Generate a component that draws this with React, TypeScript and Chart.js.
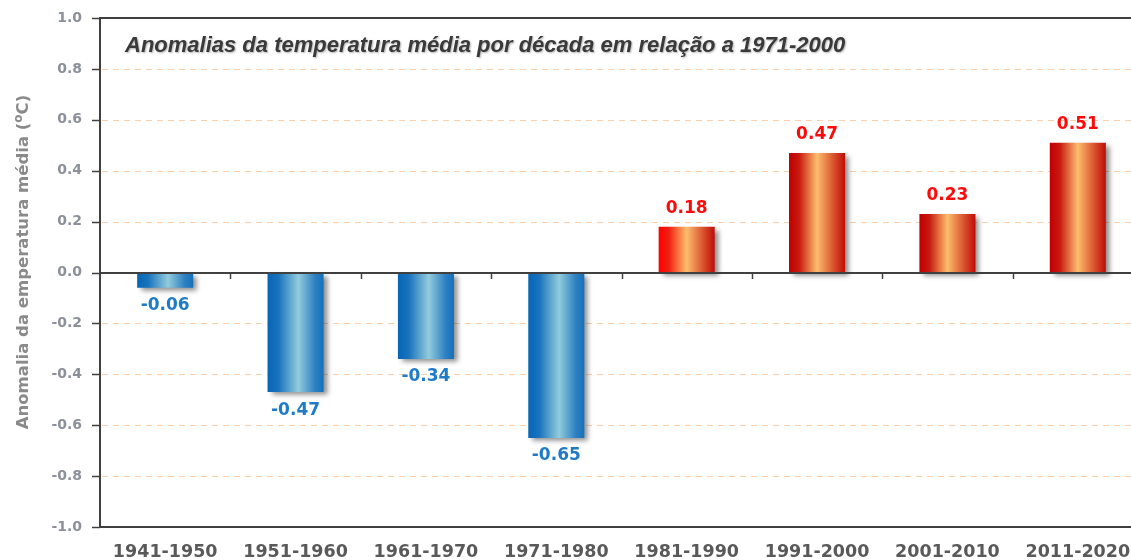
import React, { useEffect, useRef } from 'react';
import { Chart, registerables } from 'chart.js';

Chart.register(...registerables);

const categories = ['1941-1950', '1951-1960', '1961-1970', '1971-1980', '1981-1990', '1991-2000', '2001-2010', '2011-2020'];
const anomalies = [-0.06, -0.47, -0.34, -0.65, 0.18, 0.47, 0.23, 0.51];
const gridValues = [-0.8, -0.6, -0.4, -0.2, 0.2, 0.4, 0.6, 0.8];
const tickValues = [-1.0, -0.8, -0.6, -0.4, -0.2, 0.0, 0.2, 0.4, 0.6, 0.8, 1.0];
const chartTitle = 'Anomalias da temperatura média por década em relação a 1971-2000';
const yTitleMain = 'Anomalia da emperatura média (';
const yTitleSup = 'o';
const yTitleEnd = 'C)';

const AXIS = '#404040';
const SANS = '"DejaVu Sans", Verdana, sans-serif';

function barGradient(ctx: any) {
  const chart = ctx.chart;
  const i = ctx.dataIndex;
  const v = anomalies[i];
  if (!chart.chartArea || i === undefined) return v < 0 ? '#1a73bb' : '#c00000';
  const xs = chart.scales.x;
  const cx = xs.getPixelForValue(i);
  const w = (xs.width / categories.length) * 0.43;
  const g = chart.ctx.createLinearGradient(cx - w / 2, 0, cx + w / 2, 0);
  if (v < 0) {
    g.addColorStop(0, '#0665b6');
    g.addColorStop(0.2, '#1a74bd');
    g.addColorStop(0.55, '#92cbdc');
    g.addColorStop(0.85, '#2c80c2');
    g.addColorStop(1, '#1670b9');
  } else {
    g.addColorStop(0, i === 4 ? '#ff0000' : '#c00000');
    g.addColorStop(0.18, i === 4 ? '#f02010' : '#c81a10');
    g.addColorStop(0.5, '#fdbd6c');
    g.addColorStop(0.8, '#d8502c');
    g.addColorStop(1, '#c00c08');
  }
  return g;
}

const decor = {
  id: 'decor',
  beforeDatasetsDraw(chart: any) {
    const { ctx, chartArea, scales } = chart;
    const { left, right } = chartArea;
    const y = scales.y;
    ctx.save();
    ctx.strokeStyle = '#fccfa8';
    ctx.lineWidth = 1;
    ctx.setLineDash([6, 5]);
    for (const v of gridValues) {
      const py = Math.round(y.getPixelForValue(v)) + 0.5;
      ctx.beginPath();
      ctx.moveTo(left + 2, py);
      ctx.lineTo(right, py);
      ctx.stroke();
    }
    ctx.restore();
    ctx.save();
    ctx.shadowColor = 'rgba(0,0,0,0.45)';
    ctx.shadowBlur = 5;
    ctx.shadowOffsetX = 4;
    ctx.shadowOffsetY = 3;
  },
  afterDatasetsDraw(chart: any) {
    const { ctx, chartArea, scales } = chart;
    ctx.restore();
    const { left, right, top } = chartArea;
    const x = scales.x;
    const y = scales.y;
    ctx.save();
    ctx.strokeStyle = AXIS;
    ctx.lineWidth = 2;
    // top border
    ctx.beginPath();
    ctx.moveTo(left - 1, top);
    ctx.lineTo(right, top);
    ctx.stroke();
    // zero line
    const zy = Math.round(y.getPixelForValue(0));
    ctx.beginPath();
    ctx.moveTo(left - 1, zy);
    ctx.lineTo(right, zy);
    ctx.stroke();
    // x ticks at zero line
    ctx.lineWidth = 1.5;
    const step = x.width / categories.length;
    for (let k = 1; k < categories.length; k++) {
      const px = Math.round(x.getPixelForValue(k) - step / 2) + 0.5;
      ctx.beginPath();
      ctx.moveTo(px, zy);
      ctx.lineTo(px, zy + 6);
      ctx.stroke();
    }
    // y ticks
    for (const v of tickValues) {
      const py = Math.round(y.getPixelForValue(v)) + 0.5;
      ctx.beginPath();
      ctx.moveTo(left - 8, py);
      ctx.lineTo(left, py);
      ctx.stroke();
    }
    ctx.restore();

    // value labels
    const meta = chart.getDatasetMeta(0);
    ctx.save();
    ctx.font = `bold 17px ${SANS}`;
    ctx.textAlign = 'center';
    ctx.textBaseline = 'middle';
    meta.data.forEach((bar: any, i: number) => {
      const v = anomalies[i];
      const neg = v < 0;
      ctx.fillStyle = neg ? '#1f7bc8' : '#ff0a0a';
      const ly = neg ? bar.y + 18 : bar.y - 18;
      ctx.fillText(v.toFixed(2), bar.x, ly);
    });
    ctx.restore();

    // chart title
    ctx.save();
    ctx.font = `italic bold 22px "Liberation Sans", Arial, sans-serif`;
    ctx.fillStyle = '#3a3a3a';
    ctx.textAlign = 'left';
    ctx.textBaseline = 'alphabetic';
    ctx.shadowColor = 'rgba(0,0,0,0.3)';
    ctx.shadowBlur = 2;
    ctx.shadowOffsetX = 1;
    ctx.shadowOffsetY = 1;
    ctx.fillText(chartTitle, 125, 52);
    ctx.restore();

    // y axis title
    ctx.save();
    ctx.translate(28, 262);
    ctx.rotate(-Math.PI / 2);
    ctx.fillStyle = '#8a8a8a';
    ctx.textBaseline = 'alphabetic';
    ctx.textAlign = 'left';
    const mainFont = `bold 16.5px ${SANS}`;
    const supFont = `bold 12px ${SANS}`;
    ctx.font = mainFont;
    const w1 = ctx.measureText(yTitleMain).width;
    const w3 = ctx.measureText(yTitleEnd).width;
    ctx.font = supFont;
    const w2 = ctx.measureText(yTitleSup).width;
    const total = w1 + w2 + w3;
    let sx = -total / 2;
    ctx.font = mainFont;
    ctx.fillText(yTitleMain, sx, 0);
    sx += w1;
    ctx.font = supFont;
    ctx.fillText(yTitleSup, sx, -6);
    sx += w2;
    ctx.font = mainFont;
    ctx.fillText(yTitleEnd, sx, 0);
    ctx.restore();
  },
};

export default function App() {
  const ref = useRef<HTMLCanvasElement | null>(null);
  useEffect(() => {
    if (!ref.current) return;
    const chart = new Chart(ref.current, {
      type: 'bar',
      data: {
        labels: categories,
        datasets: [
          {
            data: anomalies,
            backgroundColor: barGradient as any,
            borderWidth: 0,
            barPercentage: 0.43,
            categoryPercentage: 1,
          },
        ],
      },
      options: {
        animation: false,
        responsive: false,
        maintainAspectRatio: false,
        layout: { padding: { left: 0, right: 2, top: 18, bottom: 0 } },
        plugins: {
          legend: { display: false },
          tooltip: { enabled: false },
          title: { display: false },
        },
        scales: {
          x: {
            grid: { display: false, drawTicks: false },
            border: { display: true, color: AXIS, width: 2 },
            ticks: {
              autoSkip: false,
              maxRotation: 0,
              padding: 15,
              color: '#595959',
              font: { family: SANS, size: 17.5, weight: 'bold' },
            },
            afterFit: (s: any) => {
              s.height = 33;
              s.paddingLeft = 0;
              s.paddingRight = 0;
            },
          },
          y: {
            min: -1,
            max: 1,
            grid: { display: false, drawTicks: false },
            border: { display: true, color: AXIS, width: 2 },
            ticks: {
              stepSize: 0.2,
              padding: 18,
              color: '#8b909b',
              font: { family: SANS, size: 14, weight: 'bold' },
              callback: (v: any) => Number(v).toFixed(1),
            },
            afterFit: (s: any) => {
              s.width = 100;
              s.paddingTop = 0;
              s.paddingBottom = 0;
            },
          },
        },
      },
      plugins: [decor],
    });
    return () => chart.destroy();
  }, []);
  return (
    <div style={{ position: 'absolute', left: 0, top: 0, width: 1131, height: 560, overflow: 'hidden', background: '#fff' }}>
      <canvas ref={ref} width={1145} height={560} style={{ display: 'block' }} />
    </div>
  );
}
